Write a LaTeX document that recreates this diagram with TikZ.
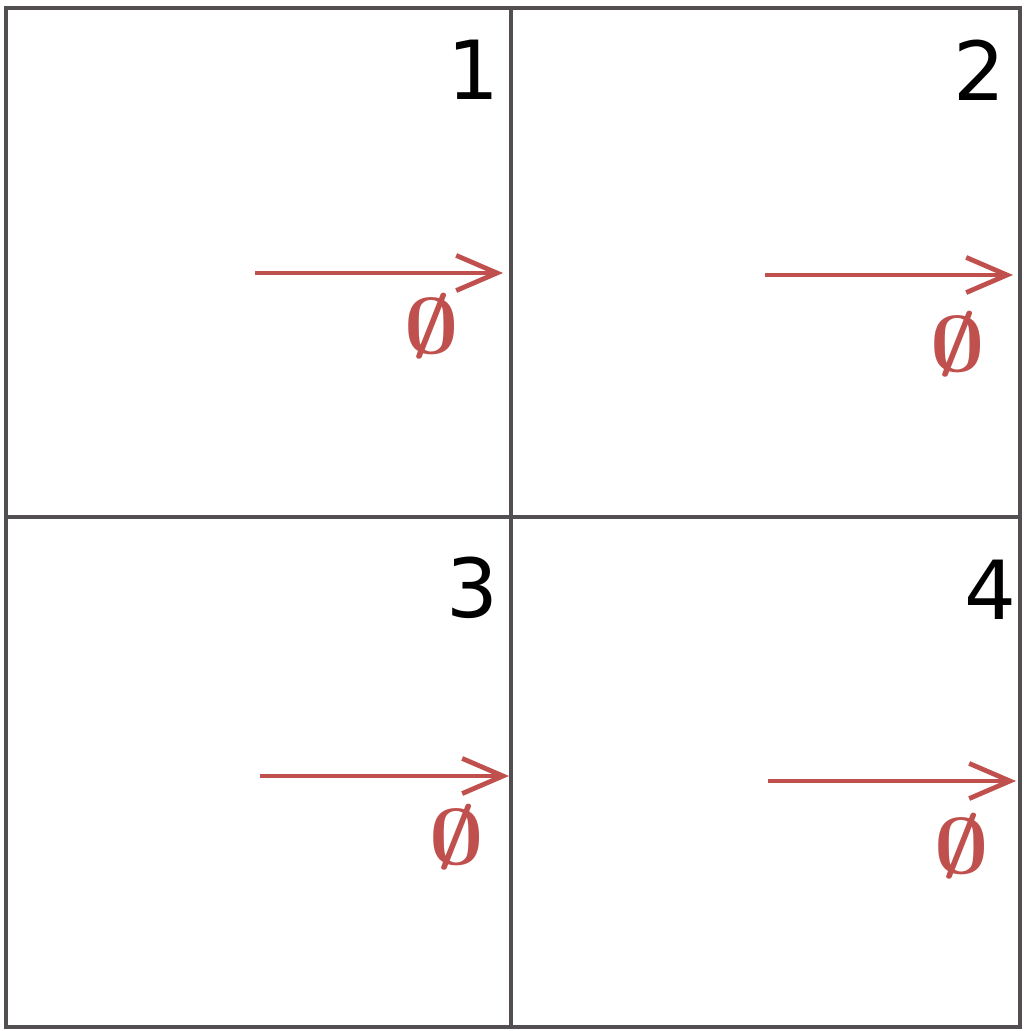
\documentclass[tikz,border=0pt]{standalone}
\usepackage{fontspec}
\setsansfont{DejaVu Sans}
\usetikzlibrary{arrows.meta,positioning}
\definecolor{gridgray}{HTML}{524E52}
\definecolor{markred}{HTML}{C0504D}
\newcommand{\bigempty}{\scalebox{2.7}[2.25]{\Huge\boldmath$\emptyset$}}
\tikzset{
  gridline/.style={draw=gridgray, line width=2.9pt},
  cellnum/.style={font=\sffamily\fontsize{58}{58}\selectfont, inner sep=0pt, anchor=north east},
  flow/.style={draw=markred, line width=3.4pt, -{Straight Barb[length=29pt,width=25pt,line width=3.4pt]}},
  emptymark/.style={text=markred, inner sep=0pt}
}

\begin{document}
\begin{tikzpicture}[x=0.025cm, y=-0.025cm]
\useasboundingbox (0,0) rectangle (1024,1031);

% Frame and the two dividing lines
\coordinate (nw) at (6,8);
\coordinate (se) at (1020,1027);
\draw[gridline] (nw) rectangle (se);
\draw[gridline] (511,8) -- (511,1027);
\draw[gridline] (6,517) -- (1020,517);

% Cell numbers
\node[cellnum] (n1) at (500,40) {1};
\node[cellnum] (n2) at (1006,40) {2};
\node[cellnum] (n3) at (499,557) {3};
\node[cellnum] (n4) at (1017,560) {4};

% Arrows running into the right edge of each cell
\coordinate (s1) at (255,273);  \coordinate (e1) at (503,273);
\coordinate (s2) at (765,275);  \coordinate (e2) at (1013,275);
\coordinate (s3) at (260,776);  \coordinate (e3) at (509,776);
\coordinate (s4) at (768,781);  \coordinate (e4) at (1016,781);
\foreach \i in {1,...,4}
  \draw[flow] (s\i) -- (e\i);

% Empty-set marks under the arrows
\node[emptymark] (m1) at (432,326) {\bigempty};
\node[emptymark] (m2) at (958,344) {\bigempty};
\node[emptymark] (m3) at (457,837) {\bigempty};
\node[emptymark] (m4) at (962,846) {\bigempty};
\end{tikzpicture}
\end{document}
